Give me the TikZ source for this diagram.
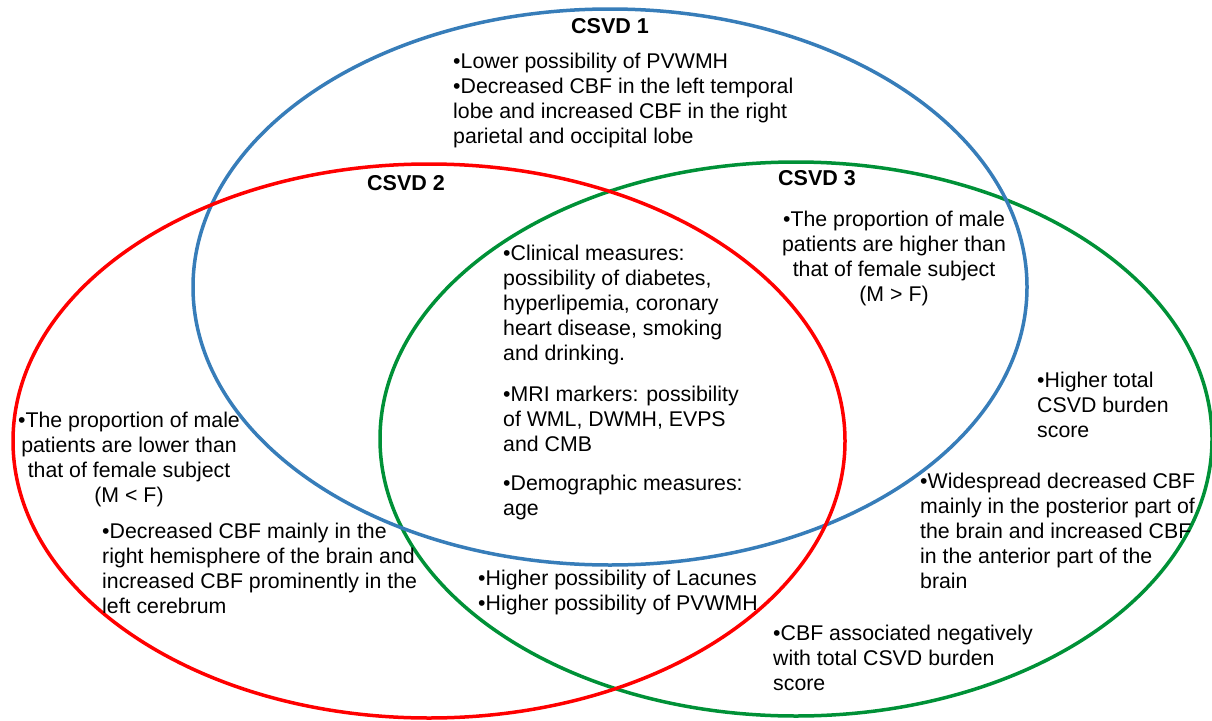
\documentclass[tikz,border=0pt]{standalone}
\usepackage{fontspec}
\setmainfont{Liberation Sans}
\definecolor{cblue}{RGB}{55,125,185}
\definecolor{cred}{RGB}{255,0,0}
\definecolor{cgreen}{RGB}{0,145,55}
\tikzset{
  ring/.style={line width=3.5pt},
  txt/.style={inner sep=0pt, font=\fontsize{21.3}{25}\selectfont, align=left, anchor=base west},
  ctxt/.style={txt, align=center, anchor=base},
  title/.style={inner sep=0pt, font=\fontsize{21.5}{25}\selectfont\bfseries, anchor=base},
}
\begin{document}
\begin{tikzpicture}[x=1pt,y=-1pt]
\useasboundingbox (0,0) rectangle (1212,720);
\draw[ring, cgreen] (796,439) ellipse [x radius=416, y radius=277];
\draw[ring, cblue] (610,287) ellipse [x radius=417, y radius=278];
\draw[ring, cred] (429,441) ellipse [x radius=416, y radius=277];
% nodes are placed at the baseline of their last line
\node[title] (t1) at (610,33) {CSVD 1};
\node[title] (t2) at (406,190) {CSVD 2};
\node[title] (t3) at (817,185) {CSVD 3};
\node[txt] (a) at (453,143) {•Lower possibility of PVWMH\\•Decreased CBF in the left temporal\\lobe and increased CBF in the right\\parietal and occipital lobe};
\node[ctxt] (b) at (894,301) {•The proportion of male\\patients are higher than\\that of female subject\\(M > F)};
\node[txt] (c) at (503,515) {•Clinical measures:\\possibility of diabetes,\\hyperlipemia, coronary\\heart disease, smoking\\and drinking.\\[16pt]•MRI markers: possibility\\of WML, DWMH, EVPS\\and CMB\\[14pt]•Demographic measures:\\age};
\node[ctxt] (d) at (129,502) {•The proportion of male\\patients are lower than\\that of female subject\\(M < F)};
\node[txt] (e) at (102,613) {•Decreased CBF mainly in the\\right hemisphere of the brain and\\increased CBF prominently in the\\left cerebrum};
\node[txt] (f) at (478,610) {•Higher possibility of Lacunes\\•Higher possibility of PVWMH};
\node[txt] (g) at (1037,437) {•Higher total\\CSVD burden\\score};
\node[txt] (h) at (920,588) {•Widespread decreased CBF\\mainly in the posterior part of\\the brain and increased CBF\\in the anterior part of the\\brain};
\node[txt] (i) at (773,690) {•CBF associated negatively\\with total CSVD burden\\score};
\end{tikzpicture}
\end{document}
